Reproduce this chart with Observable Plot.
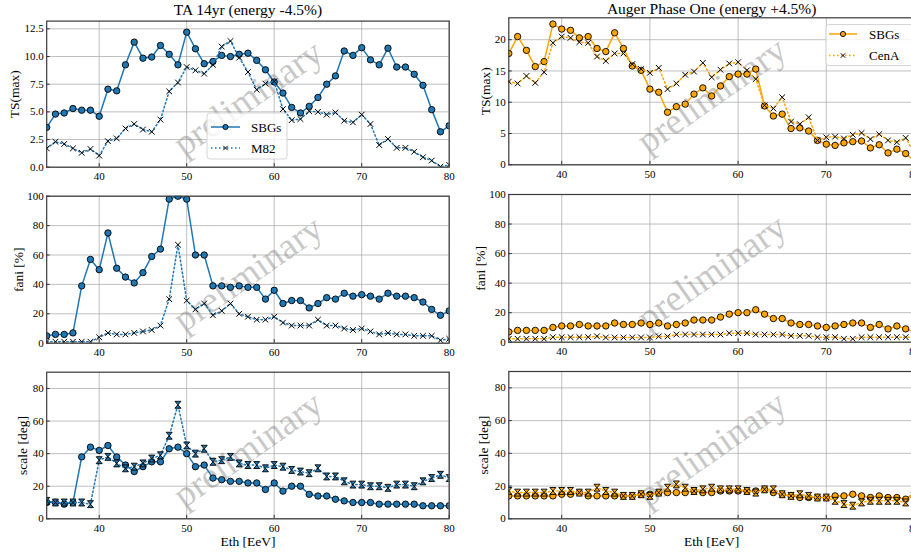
<!DOCTYPE html>
<html><head><meta charset="utf-8">
<script src="https://cdn.jsdelivr.net/npm/d3@7"></script>
<script src="https://cdn.jsdelivr.net/npm/@observablehq/plot@0.6"></script>
<style>
body{margin:0;background:#fff;overflow:hidden}
#fig{position:relative;width:911px;height:556px;overflow:hidden;font-family:"Liberation Serif","DejaVu Serif",serif;background:#fff}
#fig svg{position:absolute;max-width:none}
.leg{position:absolute;overflow:visible}
</style></head><body><div id="fig"></div>
<script>
// ---- data ----
const eth = [34,35,36,37,38,39,40,41,42,43,44,45,46,47,48,49,50,51,52,53,54,55,56,57,58,59,60,61,62,63,64,65,66,67,68,69,70,71,72,73,74,75,76,77,78,79,80];
const xTicks = [40,50,60,70,80];

const taSbgTS = [3.6,4.8,4.9,5.3,5.15,5.15,4.6, 7.05,6.9,9.25,11.3,9.85,9.95,11.0,10.2,9.25,12.2, 10.7,9.35,9.55,10.1,10.0,10.2,10.3,9.65,8.8,7.7, 6.7,5.4,4.9,5.5,6.3,7.5,8.25,10.5,10.1,10.8, 9.7,9.25,10.75,9.05,9.05,8.4,7.4,5.2,3.2,3.75];
const taM82TS = [1.7,2.3,2.1,1.7,1.3,1.65,1.05, 2.35,2.6,3.5,3.9,3.4,3.2,4.3,6.85,7.65,9.05, 8.75,8.45,9.25,10.9,11.4,9.9,8.6,7.0,7.55,7.75, 5.25,4.25,4.35,5.05,5.0,4.75,4.95,4.2,4.05,4.75, 3.9,2.0,2.55,1.75,1.75,1.4,0.9,0.6,0.05,0.2];
const augSbgTS = [17.8,20.5,18.3,15.7,16.5,22.5,21.7, 21.5,20.3,20.5,18.6,18.1,21.1,18.6,15.8,15.1,12.1, 11.6,8.4,9.3,9.7,11.3,12.3,11.0,12.6,14.1,14.5, 14.5,15.3,9.4,7.8,8.1,5.8,5.9,5.4,3.9,3.3, 3.1,3.5,3.7,3.8,2.7,3.2,1.9,2.5,1.8,0.6];
const augCenTS = [13.3,13.0,14.2,13.1,14.8,19.5,20.5, 20.3,19.6,19.5,17.3,16.6,17.8,17.8,16.1,15.3,14.7, 15.5,12.1,13.0,14.4,14.9,16.3,14.0,15.2,16.2,16.4, 15.1,13.7,9.5,9.0,10.8,6.9,6.5,7.6,3.9,4.4, 4.5,4.2,4.8,5.1,4.1,4.9,3.9,3.6,4.3,1.8];

const taSbgFani = [5,6,6,7,39,57,50, 75,51,45,41,48,59,64,98,100,98, 60,60,39,39,38,39,38,38,30,36, 27,29,29,24,27,31,30,34,32,33, 32,30,34,32,32,31,28,23,19,22];
const taM82Fani = [1,1,1,1,1,1,4, 7,6,6,7,8,9,12,30,67,29, 23,27,19,22,27,20,18,16,16,18, 14,12,12,12,16,12,12,10,9,10, 8,6,7,6,6,5,5,5,2,3];
const augSbgFani = [7,8,8,8,8,10,11, 11,12,11,11,11,13,12,12,13,12, 13,11,12,13,15,15,15,17,19,20, 20,22,19,16,16,13,12,12,11,10, 11,12,13,13,10,12,9,11,9,7];
const augCenFani = [2.3,2.3,2.3,2.3,2.3,3.4,3.4, 3.4,3.4,3.4,4,3.2,3.2,3.2,3.2,3.2,3.2, 3.9,3.9,5.2,5.2,5.2,5.2,5.2,5.2,6.1,6.1, 6.1,5.2,5.2,5.2,5.2,4.3,4.3,4.3,3.4,3.4, 3.4,2.3,2.3,3.4,3.4,3.4,3.4,3.4,3.4,3.4];

const taSbgScale = [10,10,9,10,38,44,42, 45,38,33,29,32,35,35,43,44,40, 32,33,25,24,23,23,22,22,18,22, 17,20,20,15,14,14,12,11,10,10, 10,9,9,9,9,9,8,8,8,8];
const taM82Scale = [11,10,10,10,10,9,36, 38,34,31,32,34,37,39,51,70,45, 40,43,35,36,38,34,33,33,31,33, 32,30,29,28,31,26,26,23,21,21, 20,20,19,21,21,20,23,25,27,25];
const augSbgScale = [14,14,14,14,14,14,15, 15,16,14,14,14,14,14,14,15,15, 16,16,16,16,17,16,16,17,17,17, 17,17,18,16,15,14,13,13,13,13, 14,14,15,14,13,14,13,13,12,16];
const augCenScale = [17,16,16,16,16,17,17, 17,16,16,19,17,16,14,14,15,14, 16,19,21,19,17,18,19,18,18,18, 17,16,18,18,15,14,15,14,13,13, 11,9,8,10,11,11,11,11,10,16];

const blue = "#1f77b4", orange = "#ffa500";

// hourglass marker
const hourglass = {draw(ctx, size){ const r = Math.sqrt(size)/2, ry = r*1.15;
  ctx.moveTo(-r,-ry); ctx.lineTo(r,-ry); ctx.lineTo(-r,ry); ctx.lineTo(r,ry); ctx.closePath(); }};

const fig = document.getElementById("fig");
const W = 460;

function panel(c){
  const fw = W - c.ml - c.mr, fh = c.h - c.mt - c.mb;
  const r1 = eth.map((x,i)=>({x, y:c.s1[i]}));
  const r2 = eth.map((x,i)=>({x, y:c.s2[i]}));
  const marks = [
    Plot.ruleX(xTicks, {stroke:"#b0b0b0", strokeWidth:0.8}),
    Plot.ruleY(c.yTicks, {stroke:"#b0b0b0", strokeWidth:0.8}),
    Plot.text(["preliminary"], {frameAnchor:"middle", rotate:-35, dy:4, fontSize:37, fill:"#7a7a7a", fillOpacity:0.42}),
    Plot.line(r1, {x:"x", y:"y", stroke:c.color, strokeWidth:1.5, clip:true}),
    Plot.dot(r1, {x:"x", y:"y", r:3.2, fill:c.color, stroke:"black", strokeWidth:0.9, clip:true}),
    Plot.line(r2, {x:"x", y:"y", stroke:c.color, strokeWidth:1.5, strokeDasharray:"1.5,2.5", clip:true}),
    c.hour
      ? Plot.dot(r2, {x:"x", y:"y", r:3.4, symbol:hourglass, fill:c.color, stroke:"black", strokeWidth:0.9, clip:true})
      : Plot.dot(r2, {x:"x", y:"y", r:2.7, symbol:"times", stroke:"black", strokeWidth:1, clip:true}),
    Plot.tickX(xTicks, {x:d=>d, insetTop:fh-3.5, stroke:"#333"}),
    Plot.tickY(c.yTicks, {y:d=>d, insetRight:fw-3.5, stroke:"#333"}),
    Plot.frame({stroke:"#3a3a3a", strokeWidth:1.2}),
    Plot.axisX(xTicks, {tickSize:0, tickPadding:5, label:null}),
    Plot.axisY(c.yTicks, {tickSize:0, tickPadding:3, tickFormat:c.fmt, label:null}),
    Plot.text([c.ylabel], {frameAnchor:"left", dx:c.ylDx, rotate:-90, fontSize:13.5, textAnchor:"middle", lineAnchor:"middle", fill:"black"})
  ];
  if (c.title) marks.push(Plot.text([c.title], {frameAnchor:"top", dy:c.titleDy, fontSize:15.5, lineAnchor:"middle", fill:"black"}));
  if (c.xlabel) marks.push(Plot.text([c.xlabel], {frameAnchor:"bottom", dy:23, fontSize:13.5, lineAnchor:"middle", fill:"black"}));
  const svg = Plot.plot({
    width:W, height:c.h,
    marginLeft:c.ml, marginRight:c.mr, marginTop:c.mt, marginBottom:c.mb,
    x:{domain:[34,80]}, y:{domain:c.yd},
    style:{background:"transparent", overflow:"visible", fontFamily:'"Liberation Serif", serif', fontSize:"11px", color:"black"},
    marks
  });
  svg.style.left = c.left + "px";
  svg.style.top = c.top + "px";
  fig.appendChild(svg);
}

const f1 = d=>d.toFixed(1), f0 = d=>String(d);
// row 1
panel({left:0, top:0, h:190, ml:46.2, mr:11.3, mt:20.6, mb:23.3, yd:[0,13.2], yTicks:[0,2.5,5,7.5,10,12.5], fmt:f1,
  ylabel:"TS(max)", ylDx:-32, s1:taSbgTS, s2:taM82TS, color:blue, title:"TA 14yr (energy -4.5%)", titleDy:-11});
panel({left:455, top:0, h:190, ml:53.3, mr:1, mt:17.3, mb:25.7, yd:[0,23.5], yTicks:[0,5,10,15,20], fmt:f0,
  ylabel:"TS(max)", ylDx:-23, s1:augSbgTS, s2:augCenTS, color:orange, title:"Auger Phase One (energy +4.5%)", titleDy:-8.5});
// row 2
panel({left:0, top:180, h:180, ml:46.2, mr:11.3, mt:15.7, mb:17.3, yd:[0,100], yTicks:[0,20,40,60,80,100], fmt:f0,
  ylabel:"fani [%]", ylDx:-28, s1:taSbgFani, s2:taM82Fani, color:blue});
panel({left:455, top:180, h:180, ml:53.3, mr:1, mt:14, mb:18.3, yd:[0,100], yTicks:[0,20,40,60,80,100], fmt:f0,
  ylabel:"fani [%]", ylDx:-28, s1:augSbgFani, s2:augCenFani, color:orange});
// row 3
panel({left:0, top:345, h:211, ml:46.2, mr:11.3, mt:26.7, mb:37.7, yd:[0,90], yTicks:[0,20,40,60,80], fmt:f0,
  ylabel:"scale [deg]", ylDx:-24, s1:taSbgScale, s2:taM82Scale, color:blue, hour:true, xlabel:"Eth [EeV]"});
panel({left:455, top:345, h:211, ml:53.3, mr:1, mt:26, mb:37.7, yd:[0,90], yTicks:[0,20,40,60,80], fmt:f0,
  ylabel:"scale [deg]", ylDx:-25, s1:augSbgScale, s2:augCenScale, color:orange, hour:true, xlabel:"Eth [EeV]"});

// legends
function legend(x, y, w, h, color, labels, rowY, lx0, lx1, tx, mr){
  const s = d3.select(fig).append("svg").attr("class","leg")
    .attr("width", 911).attr("height", 556).style("left","0px").style("top","0px");
  s.append("rect").attr("x",x).attr("y",y).attr("width",w).attr("height",h).attr("rx",3)
    .attr("fill","white").attr("fill-opacity",0.8).attr("stroke","#cccccc").attr("stroke-width",0.8);
  const mx = (lx0+lx1)/2;
  s.append("line").attr("x1",lx0).attr("x2",lx1).attr("y1",rowY[0]).attr("y2",rowY[0]).attr("stroke",color).attr("stroke-width",1.5);
  s.append("circle").attr("cx",mx).attr("cy",rowY[0]).attr("r",mr).attr("fill",color).attr("stroke","black").attr("stroke-width",0.9);
  s.append("line").attr("x1",lx0).attr("x2",lx1).attr("y1",rowY[1]).attr("y2",rowY[1]).attr("stroke",color).attr("stroke-width",1.5).attr("stroke-dasharray","1.5,2.5");
  const d = 2.2;
  s.append("path").attr("d",`M${mx-d},${rowY[1]-d}L${mx+d},${rowY[1]+d}M${mx-d},${rowY[1]+d}L${mx+d},${rowY[1]-d}`).attr("stroke","black").attr("stroke-width",1);
  labels.forEach((t,i)=>{
    s.append("text").attr("x",tx).attr("y",rowY[i]).attr("dominant-baseline","central")
      .attr("font-family",'"Liberation Serif", serif').attr("font-size",13).attr("fill","black").text(t);
  });
}
legend(207, 113, 80, 46, blue, ["SBGs","M82"], [127,148], 211, 240, 251, 2.6);
legend(826, 24.5, 95, 41, orange, ["SBGs","CenA"], [34,55.5], 829, 857, 869, 2.6);
</script></body></html>
